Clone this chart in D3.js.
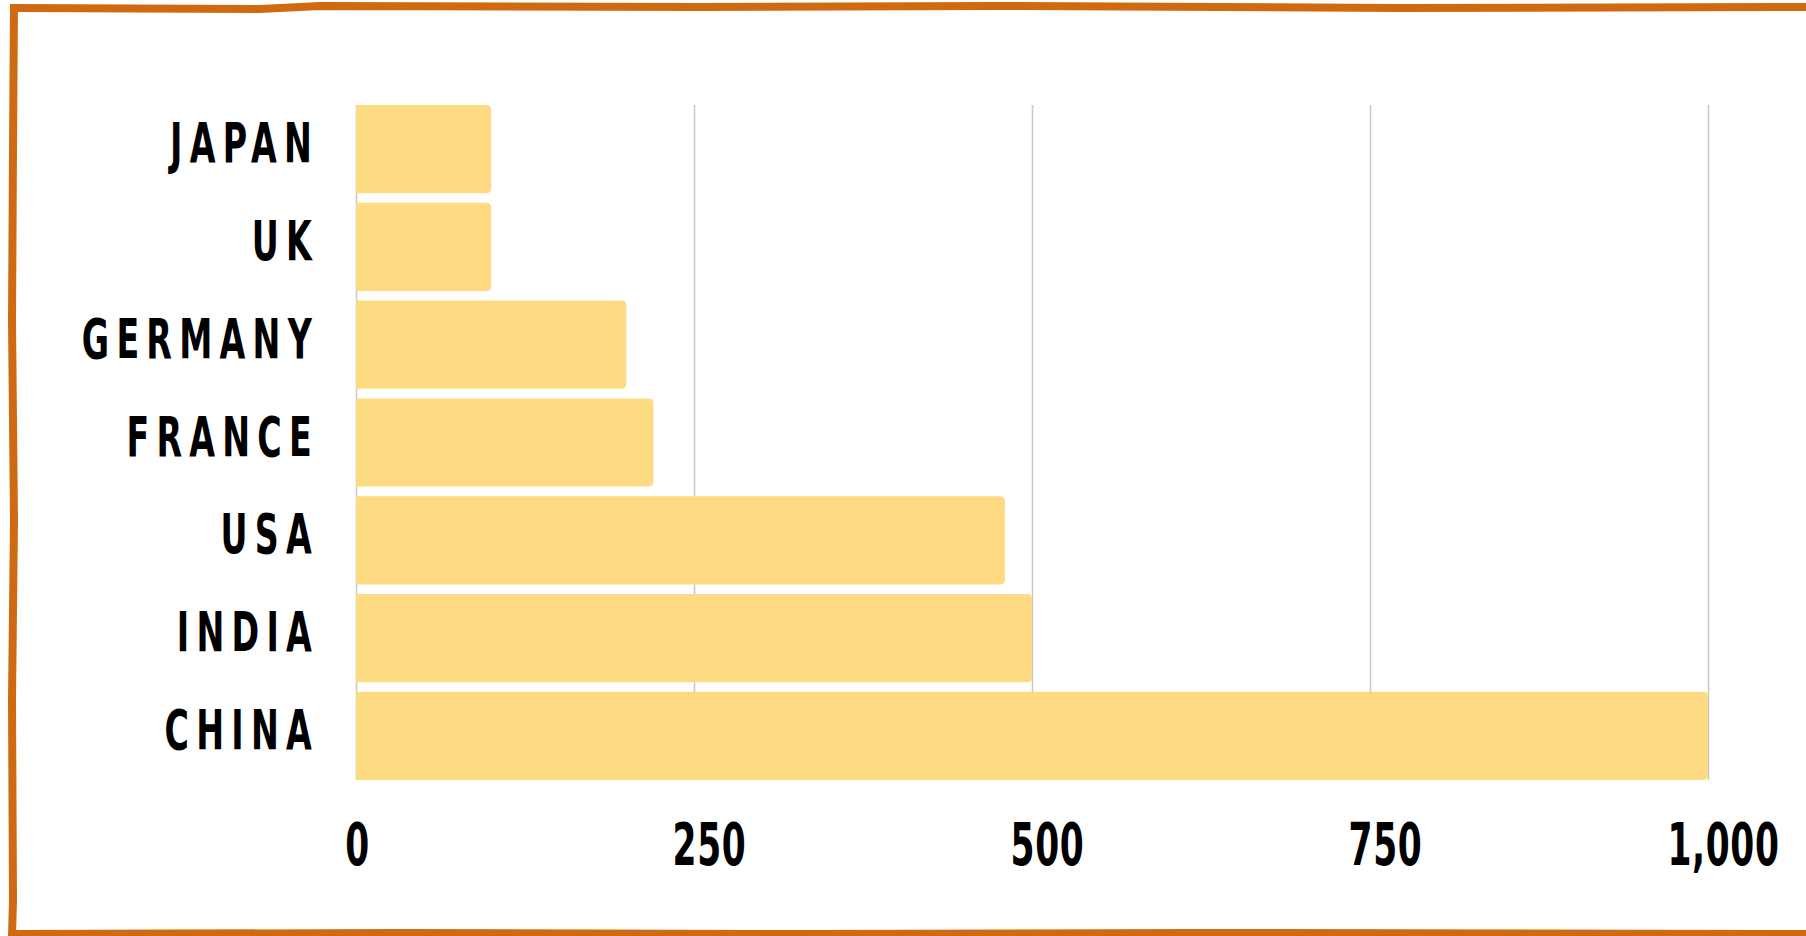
<!DOCTYPE html>
<html>
<head>
<meta charset="utf-8">
<script src="https://cdn.jsdelivr.net/npm/d3@7"></script>
<style>
  body { margin: 0; background: #fff; }
  svg { display: block; }
</style>
</head>
<body>
<div id="chart-area"></div>
<script>
// values
var categories = ["JAPAN", "UK", "GERMANY", "FRANCE", "USA", "INDIA", "CHINA"];
var values = [100, 100, 200, 220, 480, 500, 1000];
var tickValues = [0, 250, 500, 750, 1000];

var width = 1806, height = 936;
var svg = d3.select("#chart-area").append("svg")
    .attr("width", width)
    .attr("height", height);

var x = d3.scaleLinear().domain([0, 1000]).range([356, 1708]);
var y = d3.scaleBand().domain(categories).range([105, 780])
    .paddingInner(0.098).paddingOuter(0);

var font = "'DejaVu Sans Condensed', 'DejaVu Sans', sans-serif";

// gridlines + x labels
var xAxis = svg.append("g")
    .attr("transform", "translate(0,780)")
    .call(d3.axisBottom(x).tickValues(tickValues).tickSize(-675).tickFormat(d3.format(",")));
xAxis.select(".domain").remove();
xAxis.selectAll("line")
    .attr("stroke", "#c8c8c8")
    .attr("stroke-width", 1.5);
xAxis.selectAll("text")
    .attr("y", 0).attr("dy", 0)
    .attr("transform", d => "translate(" + (d === 0 ? 1 : 15) + ",85) scale(0.66,1)")
    .attr("fill", "#000")
    .style("font-family", font)
    .style("font-weight", "bold")
    .style("font-size", "58px")
    .style("letter-spacing", "1px");

// bars, rounded on the right end only
function barPath(x0, y0, w, h, r) {
  return "M" + x0 + "," + y0 + "H" + (x0 + w - r) +
    "Q" + (x0 + w) + "," + y0 + " " + (x0 + w) + "," + (y0 + r) +
    "V" + (y0 + h - r) +
    "Q" + (x0 + w) + "," + (y0 + h) + " " + (x0 + w - r) + "," + (y0 + h) +
    "H" + x0 + "Z";
}
svg.append("g").selectAll("path")
    .data(categories)
  .enter().append("path")
    .attr("d", (d, i) => barPath(x(0), y(d), x(values[i]) - x(0), y.bandwidth(), 5))
    .attr("fill", "#fedb83");

// category labels
var yAxis = svg.append("g")
    .attr("transform", "translate(" + x(0) + ",0)")
    .call(d3.axisLeft(y).tickSize(0));
yAxis.select(".domain").remove();
yAxis.selectAll("text")
    .attr("x", 0).attr("dy", 0)
    .attr("transform", "translate(-37,13) scale(0.66,1)")
    .attr("fill", "#000")
    .style("font-family", font)
    .style("font-weight", "bold")
    .style("font-size", "56px")
    .style("letter-spacing", "11px");

// hand-drawn frame
var frame = d3.line().curve(d3.curveLinear);
var edges = [
  [[16, 8], [260, 9], [320, 6], [700, 7], [1000, 6], [1400, 8], [1806, 7]],
  [[14, 4], [13, 150], [12, 320], [14, 520], [12, 700], [13, 900], [12, 936]],
  [[12, 934], [400, 933], [800, 934], [1200, 933], [1806, 934]]
];
svg.append("g").selectAll("path")
    .data(edges)
  .enter().append("path")
    .attr("d", frame)
    .attr("fill", "none")
    .attr("stroke", "#cf6a12")
    .attr("stroke-width", 8)
    .attr("stroke-linecap", "butt");
</script>
</body>
</html>
